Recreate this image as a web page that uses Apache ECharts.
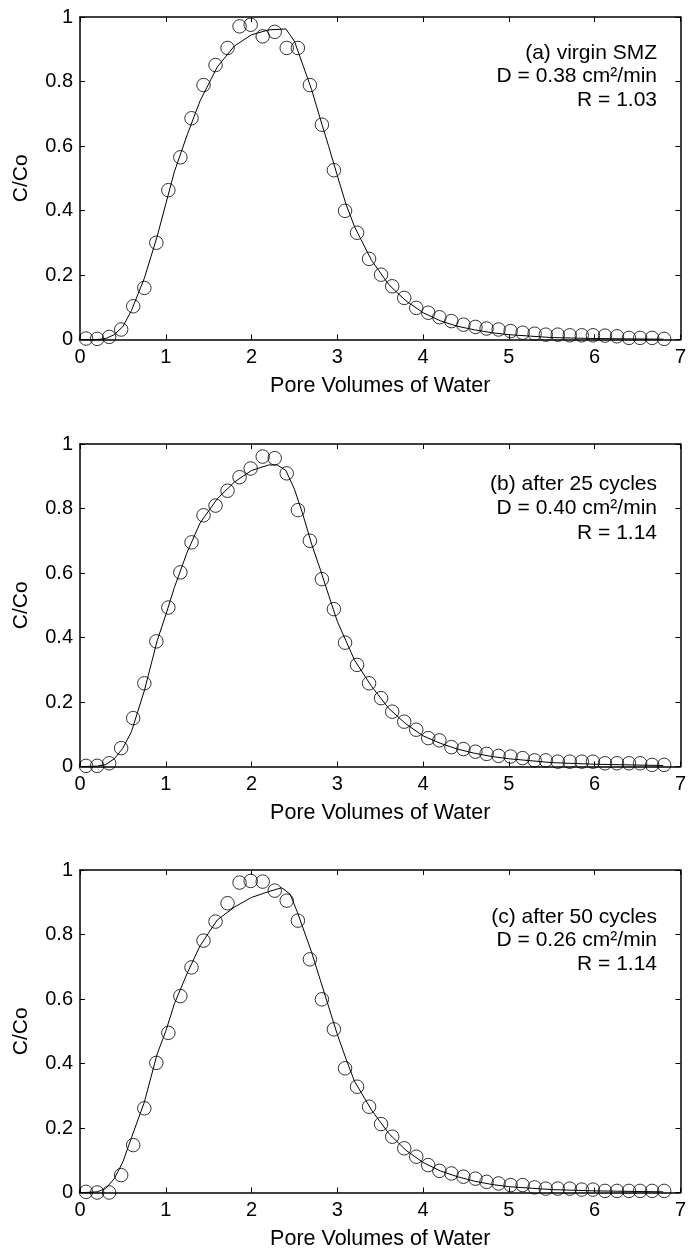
<!DOCTYPE html>
<html>
<head>
<meta charset="utf-8">
<script src="https://cdn.jsdelivr.net/npm/echarts@6/dist/echarts.min.js"></script>
<style>
html,body{margin:0;padding:0;background:#fff;}
#chart{width:689px;height:1253px;}
</style>
</head>
<body>
<div id="chart"></div>
<script>
// ---------- DATA ----------
const xTickLabels = ['0','1','2','3','4','5','6','7'];
const yTickLabels = ['0','0.2','0.4','0.6','0.8','1'];
const xAxisTitle = 'Pore Volumes of Water';
const yAxisTitle = 'C/Co';

// measured pore volumes (same for all panels)
const obsX = [0.07,0.20,0.34,0.48,0.62,0.75,0.89,1.03,1.17,1.30,1.44,1.58,1.72,1.86,1.99,2.13,2.27,2.41,2.54,2.68,
              2.82,2.96,3.09,3.23,3.37,3.51,3.64,3.78,3.92,4.06,4.19,4.33,4.47,4.61,4.74,4.88,5.02,5.16,5.30,5.43,
              5.57,5.71,5.85,5.98,6.12,6.26,6.40,6.53,6.67,6.81];

// (a) virgin SMZ
const obsA = [0.003,0.002,0.008,0.031,0.103,0.160,0.300,0.463,0.565,0.686,0.789,0.851,0.904,0.971,0.976,0.940,0.954,0.904,0.904,0.789,
              0.666,0.525,0.399,0.331,0.250,0.201,0.165,0.129,0.098,0.083,0.069,0.057,0.046,0.039,0.034,0.031,0.026,0.021,0.018,0.015,
              0.015,0.013,0.013,0.013,0.012,0.010,0.005,0.005,0.005,0.002];
const fitAx = [0.05,0.2,0.3,0.4,0.5,0.6,0.75,0.9,1.0,1.1,1.25,1.4,1.6,1.8,2.0,2.2,2.4,2.5,2.6,2.7,2.8,2.9,3.0,3.1,3.2,3.4,3.6,3.8,4.0,4.2,4.4,4.6,4.8,5.0,5.5,6.0,6.8];
const fitAy = [0,0,0.003,0.015,0.04,0.09,0.19,0.32,0.42,0.52,0.635,0.74,0.845,0.91,0.945,0.96,0.963,0.925,0.85,0.775,0.685,0.598,0.508,0.42,0.35,0.245,0.17,0.12,0.083,0.058,0.041,0.03,0.021,0.015,0.006,0.003,0.001];

// (b) after 25 cycles
const obsB = [0.002,0.002,0.010,0.057,0.150,0.258,0.388,0.493,0.602,0.695,0.779,0.809,0.855,0.897,0.924,0.961,0.956,0.909,0.795,0.700,
              0.581,0.488,0.384,0.315,0.258,0.212,0.170,0.139,0.114,0.088,0.081,0.060,0.054,0.046,0.039,0.033,0.031,0.026,0.019,0.019,
              0.015,0.015,0.015,0.015,0.010,0.010,0.010,0.010,0.005,0.005];
const fitBx = [0.05,0.2,0.3,0.4,0.5,0.6,0.75,0.9,1.0,1.1,1.25,1.4,1.6,1.8,2.0,2.2,2.3,2.4,2.5,2.6,2.7,2.8,2.9,3.0,3.1,3.2,3.4,3.6,3.8,4.0,4.2,4.4,4.6,4.8,5.0,5.5,6.0,6.8];
const fitBy = [0,0.001,0.006,0.024,0.057,0.108,0.235,0.39,0.47,0.555,0.665,0.755,0.83,0.882,0.918,0.935,0.935,0.918,0.86,0.78,0.69,0.612,0.53,0.45,0.39,0.33,0.248,0.18,0.132,0.095,0.072,0.054,0.041,0.031,0.024,0.012,0.007,0.003];

// (c) after 50 cycles
const obsC = [0.002,0.000,0.000,0.054,0.147,0.261,0.402,0.495,0.609,0.698,0.781,0.840,0.897,0.961,0.966,0.964,0.936,0.905,0.843,0.723,
              0.599,0.506,0.385,0.328,0.266,0.212,0.173,0.137,0.111,0.085,0.067,0.059,0.049,0.043,0.033,0.028,0.023,0.023,0.016,0.012,
              0.012,0.012,0.009,0.009,0.005,0.005,0.005,0.005,0.005,0.005];
const fitCx = [0.05,0.2,0.3,0.4,0.5,0.6,0.75,0.9,1.0,1.1,1.25,1.4,1.6,1.8,2.0,2.2,2.35,2.45,2.54,2.6,2.7,2.8,2.9,3.0,3.1,3.2,3.4,3.6,3.8,4.0,4.2,4.4,4.6,4.8,5.0,5.5,6.0,6.8];
const fitCy = [0,0.002,0.012,0.043,0.095,0.17,0.28,0.43,0.50,0.585,0.68,0.765,0.845,0.885,0.915,0.933,0.945,0.925,0.865,0.82,0.745,0.66,0.575,0.49,0.415,0.345,0.255,0.183,0.131,0.093,0.067,0.049,0.035,0.025,0.018,0.009,0.005,0.002];

const annotA = ['(a) virgin SMZ', 'D = 0.38 cm²/min', 'R = 1.03'];
const annotB = ['(b) after 25 cycles', 'D = 0.40 cm²/min', 'R = 1.14'];
const annotC = ['(c) after 50 cycles', 'D = 0.26 cm²/min', 'R = 1.14'];

// ---------- LAYOUT ----------
const FONT = 'Liberation Sans, Arial, Helvetica, sans-serif';
const panels = [
  {top: 17,  obs: obsA, fx: fitAx, fy: fitAy, annot: annotA, annotY: [53, 76, 100]},
  {top: 444, obs: obsB, fx: fitBx, fy: fitBy, annot: annotB, annotY: [484, 508, 533]},
  {top: 870, obs: obsC, fx: fitCx, fy: fitCy, annot: annotC, annotY: [917, 940, 964]}
];
const GRID_H = 322.5;
const lineStyle = {color: '#000', width: 1.5};

const grids = [], xAxes = [], yAxes = [], series = [], graphics = [];
panels.forEach((p, i) => {
  grids.push({left: 80, right: 6, top: p.top, height: GRID_H, containLabel: false});
  // bottom x axis
  xAxes.push({
    type: 'value', gridIndex: i, position: 'bottom', min: 0, max: 7, interval: 1,
    name: xAxisTitle, nameLocation: 'middle', nameGap: 36,
    nameTextStyle: {fontFamily: FONT, fontSize: 21.5, color: '#000'},
    axisLine: {show: true, onZero: false, lineStyle: lineStyle},
    axisTick: {show: true, inside: true, length: 5, lineStyle: {color: '#000', width: 1}},
    axisLabel: {show: true, margin: 8, fontFamily: FONT, fontSize: 20, color: '#000',
      formatter: v => xTickLabels[Math.round(v)]},
    splitLine: {show: false}
  });
  // top mirror axis
  xAxes.push({
    type: 'value', gridIndex: i, position: 'top', min: 0, max: 7, interval: 1,
    axisLine: {show: true, onZero: false, lineStyle: lineStyle},
    axisTick: {show: true, inside: true, length: 5, lineStyle: {color: '#000', width: 1}},
    axisLabel: {show: false}, splitLine: {show: false}
  });
  // left y axis
  yAxes.push({
    type: 'value', gridIndex: i, position: 'left', min: 0, max: 1, interval: 0.2,
    name: yAxisTitle, nameLocation: 'middle', nameGap: 48, nameRotate: 90,
    nameTextStyle: {fontFamily: FONT, fontSize: 21, color: '#000'},
    axisLine: {show: true, onZero: false, lineStyle: lineStyle},
    axisTick: {show: true, inside: true, length: 5, lineStyle: {color: '#000', width: 1}},
    axisLabel: {show: true, margin: 7, fontFamily: FONT, fontSize: 20, color: '#000',
      formatter: v => yTickLabels[Math.round(v * 5)]},
    splitLine: {show: false}
  });
  // right mirror axis
  yAxes.push({
    type: 'value', gridIndex: i, position: 'right', min: 0, max: 1, interval: 0.2,
    axisLine: {show: true, onZero: false, lineStyle: lineStyle},
    axisTick: {show: true, inside: true, length: 5, lineStyle: {color: '#000', width: 1}},
    axisLabel: {show: false}, splitLine: {show: false}
  });

  series.push({
    type: 'line', xAxisIndex: 2 * i, yAxisIndex: 2 * i,
    data: p.fx.map((x, k) => [x, p.fy[k]]),
    showSymbol: false, symbol: 'none', smooth: false,
    lineStyle: {color: '#000', width: 1}, silent: true, z: 3
  });
  series.push({
    type: 'scatter', xAxisIndex: 2 * i, yAxisIndex: 2 * i,
    data: obsX.map((x, k) => [x, p.obs[k]]),
    symbol: 'circle', symbolSize: 13.5,
    itemStyle: {color: 'rgba(0,0,0,0)', borderColor: '#000', borderWidth: 1},
    silent: true, z: 2
  });

  p.annot.forEach((t, k) => {
    graphics.push({
      type: 'text', x: 657, y: p.annotY[k], z: 10,
      style: {text: t, textAlign: 'right', textVerticalAlign: 'middle',
        fontFamily: FONT, fontSize: 21, fill: '#000'}
    });
  });
});

const chart = echarts.init(document.getElementById('chart'), null, {renderer: 'canvas'});
chart.setOption({
  backgroundColor: '#fff',
  animation: false,
  grid: grids,
  xAxis: xAxes,
  yAxis: yAxes,
  series: series,
  graphic: graphics
});
</script>
</body>
</html>
